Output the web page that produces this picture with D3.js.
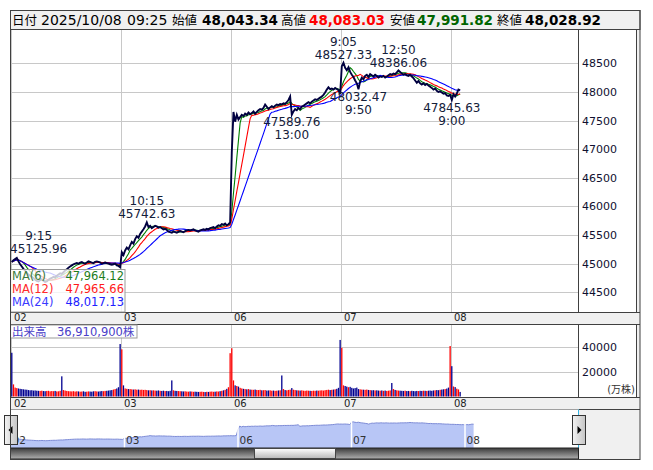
<!DOCTYPE html>
<html><head><meta charset="utf-8">
<script src="https://cdn.jsdelivr.net/npm/d3@7"></script>
<style>
html,body{margin:0;padding:0;background:#fff;}
svg{display:block;}
</style></head><body>
<svg id="c" width="653" height="470"></svg>
<script>
// ---------------- DATA ----------------
const dayLabels = ["02", "03", "06", "07", "08"];
const close02 = [45030,45060,45080,45100,45040,44990, 44950,44910,44880,44840,44810,44790,
  44770,44750,44720,44700,44690,44710, 44730,44700,44680,44690,44720,44740,
  44750,44770,44760,44790,44810,44830, 44820,44850,44880,44900,44930,44950,
  44970,44990,45000,45010,45000,45020, 45030,45010,45000,45020,45040,45030,
  45020,45010,45030,45040,45030,45020, 45000,45010,45020,45010,45000,44990,
  44980,44990,45000,44970,44960,44937];
const close03 = [45200,45150,45230,45280,45250,45320, 45380,45350,45430,45480,45450,45520,
  45560,45600,45650,45720,45640,45660, 45620,45640,45660,45650,45630,45640,
  45620,45600,45610,45590,45560,45550, 45540,45560,45550,45540,45560,45570,
  45560,45550,45570,45580,45590,45580, 45590,45600,45580,45570,45560,45580,
  45590,45600,45590,45610,45600,45620, 45630,45640,45620,45650,45670,45660,
  45690,45680,45700,45670,45690,45720];
const close06 = [46950,47650,47480,47600,47520,47560, 47600,47580,47620,47600,47640,47610,
  47630,47660,47620,47650,47680,47700, 47690,47720,47780,47740,47700,47730,
  47750,47730,47760,47780,47770,47790, 47780,47800,47790,47820,47860,47920,
  47600,47660,47700,47680,47720,47700, 47740,47760,47780,47800,47820,47800,
  47830,47850,47870,47860,47880,47900, 47920,47950,47990,48040,48080,48050,
  48060,48040,48070,48050,48030,47960];
const close07 = [48450,48510,48420,48380,48430,48350, 48300,48260,48200,48150,48045,48180,
  48250,48220,48280,48300,48260,48310, 48290,48270,48300,48280,48250,48270,
  48260,48280,48250,48270,48290,48310, 48300,48320,48310,48340,48375,48350,
  48320,48300,48310,48290,48280,48300, 48270,48240,48200,48160,48190,48150,
  48130,48150,48120,48140,48110,48090, 48070,48040,48060,48020,48000,48010,
  47990,47970,47980,47940,47930,47950];
const close08 = [47860,47960,47920,47970,48043,48029];

const vol02 = [35350,9800,7200,6800,6500,6200, 6000,5800,5600,5500,5200,5000,
  5100,4800,4900,4700,4600,4500, 4700,4400,4300,4500,4600,4200,
  4400,4300,4500,4100,4200,4600, 16300,5200,4800,4500,4300,4200,
  4100,4300,4000,4200,4100,3900, 4000,4200,3800,3900,4100,4000,
  3900,4200,4300,4100,4000,4200, 4400,4300,4500,4600,4800,5000,
  5200,5600,6000,6500,7500,42400];
const vol03 = [38100,9000,6500,6200,6000,6000, 5800,5600,5800,5500,5600,5400,
  5500,5300,5400,5200,5000,5100, 4900,5000,4800,4700,4900,4600,
  4500,4700,4400,4500,4300,4600, 13000,5000,4600,4500,4400,4300,
  4200,4100,4200,4000,3900,4100, 4000,3800,3900,3800,3700,3800,
  3900,3700,3600,3800,3700,3900, 4000,3800,3900,4100,4000,4300,
  4600,5000,5400,6200,7500,35000];
const vol06 = [39000,13000,9000,8500,8000,7000, 6500,6200,6000,5800,6000,5600,
  5500,5400,5600,5300,5200,5400, 5000,5100,5200,4800,4900,5000,
  4700,4800,4600,4700,4900,5000, 17000,6000,5200,5000,5300,5500,
  6800,5500,5200,5000,4900,4800, 5000,4700,4600,4800,4700,4600,
  4500,4700,4600,4800,4700,4900, 5000,4800,5100,5300,5500,5200,
  5400,5600,5800,6200,7000,45700];
const vol07 = [39400,9000,8500,8000,7500,7800, 7000,6500,6800,7200,6000,5800,
  5600,5500,5400,5600,5300,5200, 5000,5100,4900,5000,4800,4700,
  4900,4600,4800,4500,4700,4900, 10900,6000,5300,5000,4800,4700,
  4600,4500,4700,4400,4500,4300, 4600,4400,4300,4500,4400,4600,
  4500,4700,4600,4500,4700,4800, 4600,4900,5000,5200,5100,5400,
  5600,5800,6000,6400,7200,40800];
const vol08 = [24500,8100,7600,6300,5700,3691];

const priceTicks = [44500,45000,45500,46000,46500,47000,47500,48000,48500];
const volTicks = [20000,40000];
const maPeriods = [6,12,24];
const maNames = ["MA(6)","MA(12)","MA(24)"];
const maValues = ["47,964.12","47,965.66","48,017.13"];

const annDay = [0,1,2,3,3,3,4];
const annBar = [3,15,36,1,10,34,0];
const annTime = ["9:15","10:15","13:00","9:05","9:50","12:50","9:00"];
const annValue = [45125.96,45742.63,47589.76,48527.33,48032.47,48386.06,47845.63];
const annKind = ["high","high","low","high","low","high","low"];

const headerDate = "2025/10/08";
const headerTime = "09:25";
const headerLabels = ["始値","高値","安値","終値"];
const headerValues = ["48,043.34","48,083.03","47,991.82","48,028.92"];
const volumeLabel = "出来高";
const volumeValue = "36,910,900株";
const volUnit = "(万株)";

// ---------------- LAYOUT ----------------
const BPD = 66;
const closes = [].concat(close02, close03, close06, close07, close08);
const volumes = [].concat(vol02, vol03, vol06, vol07, vol08);
const FONT = '"DejaVu Sans","Noto Sans CJK JP",sans-serif';
const CJK = '"Noto Sans CJK JP",sans-serif';

const PL = 10, PR = 578.5, FR = 640;
const mainTop = 30, mainBot = 312.5;
const volTop = 324.5, volBot = 397.5;
const navTop = 409.5, navBot = 448, sbBot = 459.5;

const svg = d3.select("#c");
const defs = svg.append("defs");

const x = d3.scaleLinear().domain([0, BPD]).range([11, 121]);
const y = d3.scaleLinear().domain([44500, 48500]).range([292.3, 63.3]);
const yv = d3.scaleLinear().domain([0, 40000]).range([396.5, 347]);
const xn = d3.scaleLinear().domain([0, BPD]).range([11, 124.5]);
const yn = d3.scaleLinear().domain([43200, 49900]).range([448, 415]);

// backgrounds
svg.append("rect").attr("x", PL).attr("y", 10.5).attr("width", FR - PL).attr("height", sbBot - 10.5)
  .attr("fill", "#f0f0f0");
[[mainTop, mainBot], [volTop, volBot]].forEach(([t, b]) => {
  svg.append("rect").attr("x", PL).attr("y", t).attr("width", PR - PL).attr("height", b - t).attr("fill", "#fff");
  svg.append("rect").attr("x", PR).attr("y", t).attr("width", 636 - PR).attr("height", b - t).attr("fill", "#fff");
});

defs.append("clipPath").attr("id", "mclip").append("rect")
  .attr("x", PL).attr("y", mainTop).attr("width", PR - PL).attr("height", mainBot - mainTop);
defs.append("clipPath").attr("id", "vclip").append("rect")
  .attr("x", PL).attr("y", volTop).attr("width", PR - PL).attr("height", volBot - volTop);

const grid = "#c8c8c8";
priceTicks.forEach(t => {
  svg.append("line").attr("x1", PL).attr("x2", PR).attr("y1", Math.round(y(t)) + 0.5).attr("y2", Math.round(y(t)) + 0.5)
    .attr("stroke", grid);
  svg.append("text").attr("x", 582).attr("y", y(t) + 4).text(t)
    .attr("font-family", FONT).attr("font-size", 11).attr("fill", "#101030");
});
dayLabels.forEach((d, k) => {
  const xx = Math.round(x(k * BPD)) + 0.5;
  svg.append("line").attr("x1", xx).attr("x2", xx).attr("y1", mainTop).attr("y2", mainBot).attr("stroke", grid);
  svg.append("line").attr("x1", xx).attr("x2", xx).attr("y1", volTop).attr("y2", volBot).attr("stroke", grid);
  svg.append("text").attr("x", x(k * BPD) + 3).attr("y", 321).text(d)
    .attr("font-family", FONT).attr("font-size", 10).attr("fill", "#222");
  svg.append("text").attr("x", x(k * BPD) + 3).attr("y", 406.5).text(d)
    .attr("font-family", FONT).attr("font-size", 10).attr("fill", "#222");
});
volTicks.forEach(t => {
  svg.append("line").attr("x1", PL).attr("x2", PR).attr("y1", Math.round(yv(t)) + 0.5).attr("y2", Math.round(yv(t)) + 0.5)
    .attr("stroke", grid);
  svg.append("text").attr("x", 582).attr("y", yv(t) + 4).text(t)
    .attr("font-family", FONT).attr("font-size", 11).attr("fill", "#101030");
});
svg.append("text").attr("x", 635).attr("y", 393).attr("text-anchor", "end").text(volUnit)
  .attr("font-family", FONT).attr("font-size", 10).attr("fill", "#333");

// volume bars
const vg = svg.append("g").attr("clip-path", "url(#vclip)");
vg.selectAll("rect").data(volumes).join("rect")
  .attr("x", (d, i) => x(i) + 0.15)
  .attr("width", 1.3)
  .attr("y", d => yv(d))
  .attr("height", d => yv(0) - yv(d))
  .attr("fill", (d, i) => (i > 0 && closes[i] >= closes[i - 1]) ? "#ff0000" : "#000090");

// moving averages
function sma(arr, n) {
  return arr.map((_, i) => d3.mean(arr.slice(Math.max(0, i - n + 1), i + 1)));
}
const maColors = ["#008000", "#ff0000", "#0000ff"];
const mg = svg.append("g").attr("clip-path", "url(#mclip)");
const line = d3.line().x((d, i) => x(i) + 0.8).y(d => y(d));
maPeriods.forEach((p, k) => {
  mg.append("path").attr("d", line(sma(closes, p))).attr("fill", "none")
    .attr("stroke", maColors[k]).attr("stroke-width", 1.1);
});
mg.append("path").attr("d", line(closes)).attr("fill", "none")
  .attr("stroke", "#000040").attr("stroke-width", 1.9).attr("stroke-linejoin", "miter");

// panel borders
const bc = "#404040";
function hl(yy, x1, x2) { svg.append("line").attr("x1", x1).attr("x2", x2).attr("y1", yy).attr("y2", yy).attr("stroke", bc); }
function vl(xx, y1, y2) { svg.append("line").attr("x1", xx).attr("x2", xx).attr("y1", y1).attr("y2", y2).attr("stroke", bc); }
hl(29.5, PL, FR); hl(mainBot, PL, FR); hl(volTop, PL, FR); hl(volBot, PL, FR); hl(navTop, PL, FR);
vl(PR, mainTop, mainBot); vl(PR, volTop, volBot);
vl(636.5, mainTop, mainBot); vl(636.5, volTop, volBot);

// MA legend box
const lg = svg.append("g");
lg.append("rect").attr("x", 10.5).attr("y", 269.5).attr("width", 114.5).attr("height", 42.5)
  .attr("fill", "#fff").attr("fill-opacity", 0.78).attr("stroke", "#9a9a9a");
const legTextCol = ["#3c7a3c", "#ff2a2a", "#3a3aff"];
const legValCol = ["#1e7d1e", "#ff1a1a", "#2020ff"];
maNames.forEach((n, k) => {
  lg.append("text").attr("x", 12).attr("y", 279.5 + k * 13.4).text(n)
    .attr("font-family", FONT).attr("font-size", 11.5).attr("fill", legTextCol[k]);
  lg.append("text").attr("x", 124).attr("y", 279.5 + k * 13.4).attr("text-anchor", "end").text(maValues[k])
    .attr("font-family", FONT).attr("font-size", 11.5).attr("fill", legValCol[k]);
});

// volume label box
svg.append("rect").attr("x", 10.5).attr("y", 325).attr("width", 126.5).attr("height", 13)
  .attr("fill", "#fff").attr("fill-opacity", 0.85).attr("stroke", "#9a9a9a");
svg.append("text").attr("x", 12).attr("y", 336).text(volumeLabel)
  .attr("font-family", CJK).attr("font-size", 11.5).attr("fill", "#4a40c8");
svg.append("text").attr("x", 57).attr("y", 336).text(volumeValue)
  .attr("font-family", FONT).attr("font-size", 11.5).attr("fill", "#4a40c8");

// annotations
const ag = svg.append("g").attr("font-family", FONT).attr("font-size", 12).attr("fill", "#14203a");
annValue.forEach((v, k) => {
  const i = annDay[k] * BPD + annBar[k];
  const px = x(i) + 0.8, py = y(v);
  const vt = ag.append("text").text(v.toFixed(2)).attr("text-anchor", "middle");
  const w = vt.node().getComputedTextLength();
  const cx = Math.max(px, PL + w / 2);
  const tt = ag.append("text").text(annTime[k]).attr("text-anchor", "middle").attr("x", cx);
  vt.attr("x", cx);
  if (annKind[k] === "high") {
    vt.attr("y", py - 3); tt.attr("y", py - 16);
  } else {
    vt.attr("y", py + 11); tt.attr("y", py + 24);
  }
});

// header
const hg = svg.append("g");
hg.append("rect").attr("x", 10.5).attr("y", 10.5).attr("width", FR - 10.5).attr("height", 19)
  .attr("fill", "#f0f0f0").attr("stroke", bc);
hg.append("text").attr("x", 12).attr("y", 25).text("日付").attr("font-family", CJK).attr("font-size", 12.5);
hg.append("text").attr("x", 41).attr("y", 25).text(headerDate).attr("font-family", FONT).attr("font-size", 14);
hg.append("text").attr("x", 127).attr("y", 25).text(headerTime).attr("font-family", FONT).attr("font-size", 14);
const hlx = [172, 281, 390, 497], hvx = [202, 309, 417, 525];
const hvCol = ["#000", "#ff0000", "#006400", "#000"];
headerLabels.forEach((l, k) => {
  hg.append("text").attr("x", hlx[k]).attr("y", 25).text(l).attr("font-family", CJK).attr("font-size", 12.5);
  hg.append("text").attr("x", hvx[k]).attr("y", 25).text(headerValues[k]).attr("font-family", FONT)
    .attr("font-size", 13.5).attr("font-weight", "bold").attr("fill", hvCol[k]);
});

// navigator
svg.append("rect").attr("x", PL).attr("y", navTop).attr("width", 579 - PL).attr("height", navBot - navTop).attr("fill", "#fff");
const area = d3.area().x((d, i) => xn(i)).y0(navBot).y1(d => yn(d));
svg.append("path").attr("d", area(closes)).attr("fill", "#b8c6f6");
svg.append("path").attr("d", d3.line().x((d, i) => xn(i)).y(d => yn(d))(closes))
  .attr("fill", "none").attr("stroke", "#7d8bd6").attr("stroke-width", 1);
dayLabels.forEach((d, k) => {
  const xx = xn(k * BPD);
  if (k > 0) svg.append("line").attr("x1", xx).attr("x2", xx).attr("y1", navTop).attr("y2", navBot)
    .attr("stroke", "#fff").attr("stroke-width", 1.5);
  svg.append("text").attr("x", xx + 1.5).attr("y", 444).text(d)
    .attr("font-family", FONT).attr("font-size", 10.5).attr("fill", "#333");
});
svg.append("line").attr("x1", PL + 0.5).attr("x2", PL + 0.5).attr("y1", navTop).attr("y2", navBot).attr("stroke", "#33b5e5");
svg.append("line").attr("x1", 578.5).attr("x2", 578.5).attr("y1", navTop).attr("y2", navBot).attr("stroke", "#33b5e5");

// scrollbar
const g1 = defs.append("linearGradient").attr("id", "sb").attr("x1", 0).attr("x2", 0).attr("y1", 0).attr("y2", 1);
g1.append("stop").attr("offset", 0).attr("stop-color", "#3a3a3a");
g1.append("stop").attr("offset", 1).attr("stop-color", "#b0b0b0");
const g2 = defs.append("linearGradient").attr("id", "th").attr("x1", 0).attr("x2", 0).attr("y1", 0).attr("y2", 1);
g2.append("stop").attr("offset", 0).attr("stop-color", "#ffffff");
g2.append("stop").attr("offset", 1).attr("stop-color", "#b8b8b8");
svg.append("rect").attr("x", PL + 0.5).attr("y", navBot).attr("width", 578.5 - PL - 0.5).attr("height", sbBot - navBot - 0.5)
  .attr("fill", "url(#sb)").attr("stroke", "#222");
svg.append("rect").attr("x", 254.5).attr("y", navBot + 0.5).attr("width", 81).attr("height", sbBot - navBot - 1.5)
  .attr("fill", "url(#th)").attr("stroke", "#444");

// handles
const g3 = defs.append("linearGradient").attr("id", "hd").attr("x1", 0).attr("x2", 1).attr("y1", 0).attr("y2", 0);
g3.append("stop").attr("offset", 0).attr("stop-color", "#f4f4f4");
g3.append("stop").attr("offset", 1).attr("stop-color", "#c4c4c4");
[[4.5, -1], [572.5, 1]].forEach(([hx, dir]) => {
  svg.append("rect").attr("x", hx).attr("y", 415.5).attr("width", 13).attr("height", 29)
    .attr("fill", "url(#hd)").attr("stroke", "#333");
  const cx = hx + 6.5, cy = 430;
  svg.append("path").attr("d", `M${cx + dir * 2.5},${cy} L${cx - dir * 1.5},${cy - 4} L${cx - dir * 1.5},${cy + 4} Z`).attr("fill", "#000");
});

// outer frame
svg.append("rect").attr("x", 10.5).attr("y", 10.5).attr("width", FR - 10.5).attr("height", sbBot - 10.5)
  .attr("fill", "none").attr("stroke", bc);
</script>
</body></html>
